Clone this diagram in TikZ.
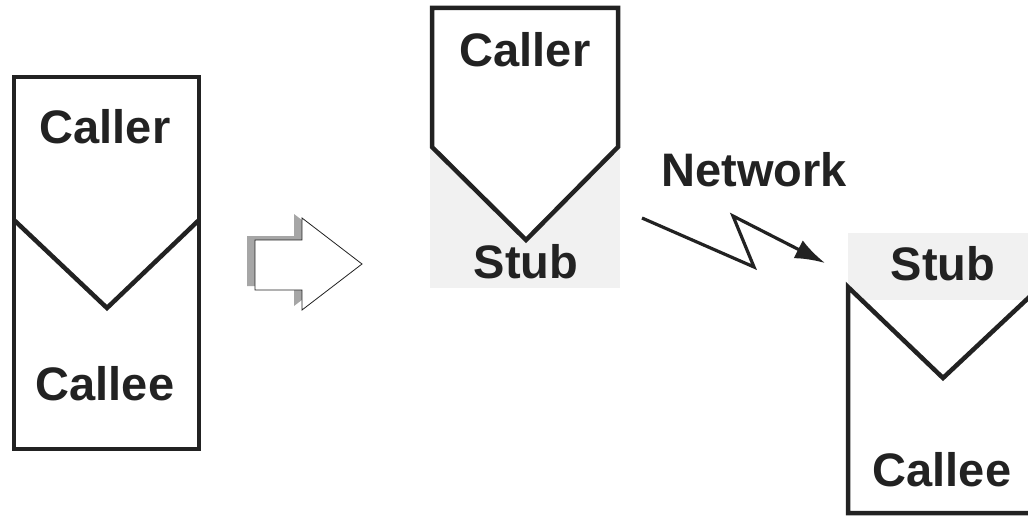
\documentclass[tikz,border=0pt]{standalone}
\usepackage{fontspec}
\setmainfont{Liberation Sans}
\usetikzlibrary{arrows.meta}
\definecolor{ink}{HTML}{222222}
\definecolor{stip}{HTML}{F1F1F1}
\tikzset{
  lbl/.style={font=\fontsize{47}{56}\selectfont\bfseries, text=ink, inner sep=0pt},
  boxline/.style={draw=ink, line width=4.5pt, line join=miter},
}
\begin{document}
\begin{tikzpicture}[x=1pt,y=-1pt]
\path[use as bounding box, fill=white] (0,0) rectangle (1028,516);
% left combined box
\draw[boxline] (14,77) rectangle (199,449);
\draw[boxline] (14,220) -- (107,308) -- (199,220);
\node[lbl] (lcaller) at (105,127) {Caller};
\node[lbl] (lcallee) at (105,384) {Callee};
% block arrow
\fill[gray!70] (247,236) -- (294,236) -- (294,214) -- (354,260) -- (294,306) -- (294,286) -- (247,286) -- cycle;
\draw[fill=white, draw=ink, line width=0.8pt] (255,240) -- (302,240) -- (302,218) -- (362,264) -- (302,310) -- (302,290) -- (255,290) -- cycle;
% middle caller + stub
\fill[stip] (430,145) rectangle (620,288);
\draw[boxline, fill=white] (432,8) -- (618,8) -- (618,147) -- (526,240) -- (432,147) -- cycle;
\node[lbl] (mcaller) at (525,50) {Caller};
\node[lbl] (mstub) at (526,262) {Stub};
% network
\node[lbl] (net) at (754,170) {Network};
\coordinate (z0) at (642,218);
\coordinate (z1) at (754,267);
\coordinate (z2) at (733,216);
\coordinate (z3) at (825,263);
\draw[draw=ink, line width=3.2pt, line join=miter, -{Latex[length=30pt,width=20pt]}] (z0) -- (z1) -- (z2) -- (z3);
% right stub + callee
\fill[stip] (848,233) rectangle (1028,300);
\draw[boxline, fill=white] (1040,287) -- (943,378) -- (848,287) -- (848,513) -- (1040,513);
\node[lbl] (rstub) at (943,264) {Stub};
\node[lbl] (rcallee) at (942,470) {Callee};
\end{tikzpicture}
\end{document}
